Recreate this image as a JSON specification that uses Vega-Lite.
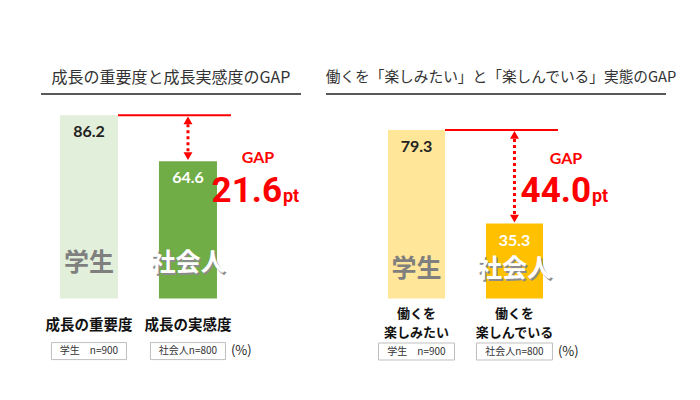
{
  "$schema": "https://vega.github.io/schema/vega-lite/v6.json",
  "padding": {"left": 40, "top": 60, "right": 35, "bottom": 30},
  "background": "white",
  "spacing": 25,
  "bounds": "flush",
  "config": {"view": {"stroke": null}, "font": "Noto Sans CJK JP", "axis": {"disable": true}},
  "datasets": {
    "growth": [
      {"cat": "学生", "value": 86.2, "label": "成長の重要度", "n": "学生　n=900"},
      {"cat": "社会人", "value": 64.6, "label": "成長の実感度", "n": "社会人n=800"}
    ],
    "growthGap": [{"from": "学生", "to": "社会人", "high": 86.2, "low": 64.6, "gap": "21.6"}],
    "enjoy": [
      {"cat": "学生", "value": 79.3, "line1": "働くを", "line2": "楽しみたい", "n": "学生　n=900"},
      {"cat": "社会人", "value": 35.3, "line1": "働くを", "line2": "楽しんでいる", "n": "社会人n=800"}
    ],
    "enjoyGap": [{"from": "学生", "to": "社会人", "high": 79.3, "low": 35.3, "gap": "44.0"}]
  },
  "hconcat": [
    {
      "width": 260,
      "height": 310,
      "layer": [
        {"data": {"values": [{}]}, "mark": {"type": "rule", "color": "#595959", "strokeWidth": 2},
         "encoding": {"y": {"datum": 96.2, "type": "quantitative", "scale": {"domain": [-33.6, 112.2], "nice": false, "zero": false}, "axis": null}}},
        {"data": {"values": [{}]}, "mark": {"type": "text", "fontSize": 16, "color": "#333333"},
         "encoding": {"y": {"datum": 103.5, "type": "quantitative"}, "text": {"value": "成長の重要度と成長実感度のGAP"}}},
        {"data": {"name": "growth"}, "mark": {"type": "bar"},
         "encoding": {
           "x": {"field": "cat", "type": "nominal", "scale": {"domain": ["学生", "社会人"], "paddingInner": 0.414, "paddingOuter": 0.52, "align": 0.184}, "axis": null},
           "y": {"field": "value", "type": "quantitative", "axis": null},
           "color": {"condition": {"test": "datum.cat === '学生'", "value": "#e2efda"}, "value": "#70ad47"}}},
        {"data": {"name": "growthGap"}, "mark": {"type": "rule", "color": "#ff0000", "strokeWidth": 2, "x2Offset": 14},
         "encoding": {"x": {"field": "from", "type": "nominal", "bandPosition": 1}, "x2": {"field": "to", "bandPosition": 1}, "y": {"field": "high", "type": "quantitative"}}},
        {"data": {"name": "growthGap"}, "mark": {"type": "rule", "color": "#ff0000", "strokeWidth": 3, "strokeDash": [3, 3], "yOffset": 9, "y2Offset": -9},
         "encoding": {"x": {"field": "to", "type": "nominal"}, "y": {"field": "high", "type": "quantitative"}, "y2": {"field": "low"}}},
        {"data": {"name": "growthGap"}, "mark": {"type": "point", "shape": "triangle-up", "filled": true, "color": "#ff0000", "size": 80, "opacity": 1, "yOffset": 5},
         "encoding": {"x": {"field": "to", "type": "nominal"}, "y": {"field": "high", "type": "quantitative"}}},
        {"data": {"name": "growthGap"}, "mark": {"type": "point", "shape": "triangle-down", "filled": true, "color": "#ff0000", "size": 80, "opacity": 1, "yOffset": -5},
         "encoding": {"x": {"field": "to", "type": "nominal"}, "y": {"field": "low", "type": "quantitative"}}},
        {"data": {"name": "growth"}, "mark": {"type": "text", "font": "Lato", "fontWeight": "bold", "fontSize": 16, "yOffset": 17},
         "encoding": {"x": {"field": "cat", "type": "nominal"}, "y": {"field": "value", "type": "quantitative"}, "text": {"field": "value", "format": ".1f"},
           "color": {"condition": {"test": "datum.cat === '学生'", "value": "#222222"}, "value": "#ffffff"}}},
        {"data": {"name": "growth"}, "transform": [{"filter": "datum.cat === '社会人'"}], "mark": {"type": "text", "fontWeight": "bold", "fontSize": 25, "color": "#8c8c8c", "dx": 1.5, "dy": 1.5},
         "encoding": {"x": {"field": "cat", "type": "nominal"}, "y": {"datum": 16.7, "type": "quantitative"}, "text": {"field": "cat"}}},
        {"data": {"name": "growth"}, "mark": {"type": "text", "fontWeight": "bold", "fontSize": 25},
         "encoding": {"x": {"field": "cat", "type": "nominal"}, "y": {"datum": 16.7, "type": "quantitative"}, "text": {"field": "cat"},
           "color": {"condition": {"test": "datum.cat === '学生'", "value": "#7f7f7f"}, "value": "#ffffff"}}},
        {"data": {"name": "growthGap"}, "mark": {"type": "text", "font": "Lato", "fontWeight": "bold", "fontSize": 16, "color": "#ff0000", "dx": 41},
         "encoding": {"x": {"field": "to", "type": "nominal", "bandPosition": 1}, "y": {"datum": 66.1, "type": "quantitative"}, "text": {"value": "GAP"}}},
        {"data": {"name": "growthGap"}, "mark": {"type": "text", "font": "Roboto", "fontWeight": "bold", "fontSize": 35, "color": "#ff0000", "dx": 65, "align": "right", "baseline": "alphabetic"},
         "encoding": {"x": {"field": "to", "type": "nominal", "bandPosition": 1}, "y": {"datum": 45.4, "type": "quantitative"}, "text": {"field": "gap"}}},
        {"data": {"name": "growthGap"}, "mark": {"type": "text", "font": "Roboto", "fontWeight": "bold", "fontSize": 18, "color": "#ff0000", "dx": 66, "align": "left", "baseline": "alphabetic"},
         "encoding": {"x": {"field": "to", "type": "nominal", "bandPosition": 1}, "y": {"datum": 45.4, "type": "quantitative"}, "text": {"value": "pt"}}},
        {"data": {"name": "growth"}, "mark": {"type": "text", "fontWeight": "bold", "fontSize": 14.5, "color": "#111111"},
         "encoding": {"x": {"field": "cat", "type": "nominal"}, "y": {"datum": -12.9, "type": "quantitative"}, "text": {"field": "label"}}},
        {"data": {"name": "growth"}, "mark": {"type": "bar", "width": 75, "fill": "#ffffff", "stroke": "#bfbfbf", "strokeWidth": 1},
         "encoding": {"x": {"field": "cat", "type": "nominal"}, "y": {"datum": -20.7, "type": "quantitative"}, "y2": {"datum": -28.7}}},
        {"data": {"name": "growth"}, "mark": {"type": "text", "fontSize": 10, "color": "#333333"},
         "encoding": {"x": {"field": "cat", "type": "nominal"}, "y": {"datum": -24.6, "type": "quantitative"}, "text": {"field": "n"}}},
        {"data": {"name": "growthGap"}, "mark": {"type": "text", "fontSize": 13, "color": "#222222", "dx": 14, "align": "left"},
         "encoding": {"x": {"field": "to", "type": "nominal", "bandPosition": 1}, "y": {"datum": -24.6, "type": "quantitative"}, "text": {"value": "(%)"}}}
      ]
    },
    {
      "width": 340,
      "height": 310,
      "layer": [
        {"data": {"values": [{}]}, "mark": {"type": "rule", "color": "#595959", "strokeWidth": 2},
         "encoding": {"y": {"datum": 96.2, "type": "quantitative", "scale": {"domain": [-33.6, 112.2], "nice": false, "zero": false}, "axis": null}}},
        {"data": {"values": [{}]}, "mark": {"type": "text", "fontSize": 14.7, "color": "#333333", "dx": 5},
         "encoding": {"y": {"datum": 103.5, "type": "quantitative"}, "text": {"value": "働くを「楽しみたい」と「楽しんでいる」実態のGAP"}}},
        {"data": {"name": "enjoy"}, "mark": {"type": "bar"},
         "encoding": {
           "x": {"field": "cat", "type": "nominal", "scale": {"domain": ["学生", "社会人"], "paddingInner": 0.418, "paddingOuter": 0.944, "align": 0.335}, "axis": null},
           "y": {"field": "value", "type": "quantitative", "axis": null},
           "color": {"condition": {"test": "datum.cat === '学生'", "value": "#ffe699"}, "value": "#ffc000"}}},
        {"data": {"name": "enjoyGap"}, "mark": {"type": "rule", "color": "#ff0000", "strokeWidth": 2, "x2Offset": 15},
         "encoding": {"x": {"field": "from", "type": "nominal", "bandPosition": 1}, "x2": {"field": "to", "bandPosition": 1}, "y": {"field": "high", "type": "quantitative"}}},
        {"data": {"name": "enjoyGap"}, "mark": {"type": "rule", "color": "#ff0000", "strokeWidth": 3, "strokeDash": [3, 3], "yOffset": 9, "y2Offset": -9},
         "encoding": {"x": {"field": "to", "type": "nominal"}, "y": {"field": "high", "type": "quantitative"}, "y2": {"field": "low"}}},
        {"data": {"name": "enjoyGap"}, "mark": {"type": "point", "shape": "triangle-up", "filled": true, "color": "#ff0000", "size": 80, "opacity": 1, "yOffset": 5},
         "encoding": {"x": {"field": "to", "type": "nominal"}, "y": {"field": "high", "type": "quantitative"}}},
        {"data": {"name": "enjoyGap"}, "mark": {"type": "point", "shape": "triangle-down", "filled": true, "color": "#ff0000", "size": 80, "opacity": 1, "yOffset": -5},
         "encoding": {"x": {"field": "to", "type": "nominal"}, "y": {"field": "low", "type": "quantitative"}}},
        {"data": {"name": "enjoy"}, "mark": {"type": "text", "font": "Lato", "fontWeight": "bold", "fontSize": 16, "yOffset": 17},
         "encoding": {"x": {"field": "cat", "type": "nominal"}, "y": {"field": "value", "type": "quantitative"}, "text": {"field": "value", "format": ".1f"},
           "color": {"condition": {"test": "datum.cat === '学生'", "value": "#222222"}, "value": "#ffffff"}}},
        {"data": {"name": "enjoy"}, "transform": [{"filter": "datum.cat === '社会人'"}], "mark": {"type": "text", "fontWeight": "bold", "fontSize": 25, "color": "#8c8c8c", "dx": 1.5, "dy": 1.5},
         "encoding": {"x": {"field": "cat", "type": "nominal"}, "y": {"datum": 13.9, "type": "quantitative"}, "text": {"field": "cat"}}},
        {"data": {"name": "enjoy"}, "mark": {"type": "text", "fontWeight": "bold", "fontSize": 25},
         "encoding": {"x": {"field": "cat", "type": "nominal"}, "y": {"datum": 13.9, "type": "quantitative"}, "text": {"field": "cat"},
           "color": {"condition": {"test": "datum.cat === '学生'", "value": "#7f7f7f"}, "value": "#ffffff"}}},
        {"data": {"name": "enjoyGap"}, "mark": {"type": "text", "font": "Lato", "fontWeight": "bold", "fontSize": 16, "color": "#ff0000", "dx": 23},
         "encoding": {"x": {"field": "to", "type": "nominal", "bandPosition": 1}, "y": {"datum": 65.6, "type": "quantitative"}, "text": {"value": "GAP"}}},
        {"data": {"name": "enjoyGap"}, "mark": {"type": "text", "font": "Roboto", "fontWeight": "bold", "fontSize": 35, "color": "#ff0000", "dx": 48, "align": "right", "baseline": "alphabetic"},
         "encoding": {"x": {"field": "to", "type": "nominal", "bandPosition": 1}, "y": {"datum": 45.2, "type": "quantitative"}, "text": {"field": "gap"}}},
        {"data": {"name": "enjoyGap"}, "mark": {"type": "text", "font": "Roboto", "fontWeight": "bold", "fontSize": 18, "color": "#ff0000", "dx": 49, "align": "left", "baseline": "alphabetic"},
         "encoding": {"x": {"field": "to", "type": "nominal", "bandPosition": 1}, "y": {"datum": 45.2, "type": "quantitative"}, "text": {"value": "pt"}}},
        {"data": {"name": "enjoy"}, "mark": {"type": "text", "fontWeight": "bold", "fontSize": 13, "color": "#111111"},
         "encoding": {"x": {"field": "cat", "type": "nominal"}, "y": {"datum": -7.1, "type": "quantitative"}, "text": {"field": "line1"}}},
        {"data": {"name": "enjoy"}, "mark": {"type": "text", "fontWeight": "bold", "fontSize": 13, "color": "#111111"},
         "encoding": {"x": {"field": "cat", "type": "nominal"}, "y": {"datum": -16.3, "type": "quantitative"}, "text": {"field": "line2"}}},
        {"data": {"name": "enjoy"}, "mark": {"type": "bar", "width": 76, "fill": "#ffffff", "stroke": "#bfbfbf", "strokeWidth": 1},
         "encoding": {"x": {"field": "cat", "type": "nominal"}, "y": {"datum": -20.9, "type": "quantitative"}, "y2": {"datum": -28.9}}},
        {"data": {"name": "enjoy"}, "mark": {"type": "text", "fontSize": 10, "color": "#333333"},
         "encoding": {"x": {"field": "cat", "type": "nominal"}, "y": {"datum": -24.9, "type": "quantitative"}, "text": {"field": "n"}}},
        {"data": {"name": "enjoyGap"}, "mark": {"type": "text", "fontSize": 13, "color": "#222222", "dx": 15, "align": "left"},
         "encoding": {"x": {"field": "to", "type": "nominal", "bandPosition": 1}, "y": {"datum": -24.9, "type": "quantitative"}, "text": {"value": "(%)"}}}
      ]
    }
  ]
}
